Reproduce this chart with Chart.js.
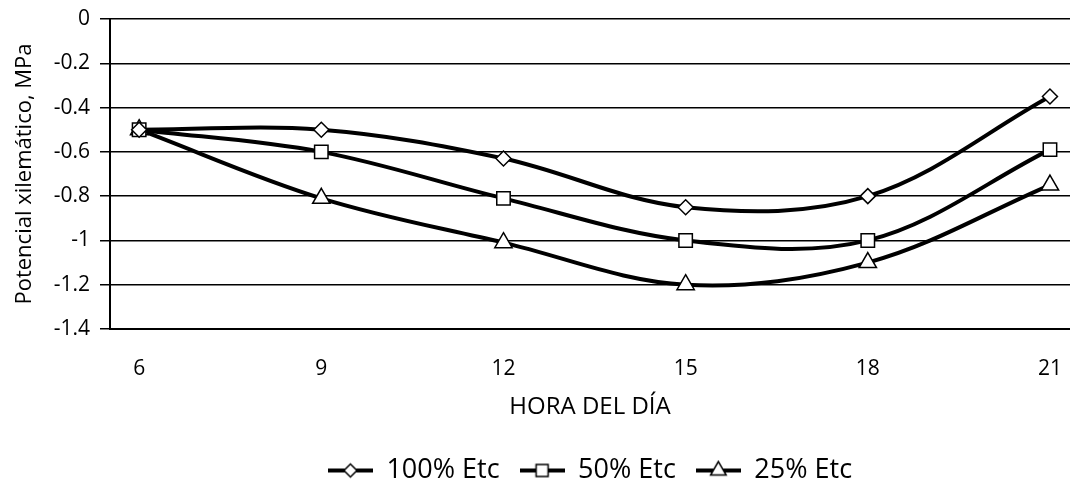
<!DOCTYPE html>
<html>
<head>
<meta charset="utf-8">
<script src="https://cdn.jsdelivr.net/npm/chart.js@4.4.1/dist/chart.umd.min.js"></script>
<style>
  html, body { margin: 0; padding: 0; background: #fff; overflow: hidden; }
  #wrap { width: 1070px; height: 481px; position: relative; }
  canvas { display: block; }
</style>
</head>
<body>
<div id="wrap"><canvas id="potChart"></canvas></div>
<script>
// datos
const hours = [6, 9, 12, 15, 18, 21];
const etc100 = [-0.5, -0.5, -0.63, -0.85, -0.8, -0.35];
const etc50 = [-0.5, -0.6, -0.81, -1.0, -1.0, -0.59];
const etc25 = [-0.5, -0.81, -1.01, -1.2, -1.1, -0.75];
const yTicks = [0, -0.2, -0.4, -0.6, -0.8, -1, -1.2, -1.4];
const seriesNames = ['100% Etc', '50% Etc', '25% Etc'];
const markers = ['rectRot', 'rect', 'triangle'];
const markerSize = [7.5, 9.5, 10];

const FONT = '"Open Sans", Lato, sans-serif';

const allSeries = [etc100, etc50, etc25];
const datasets = allSeries.map((vals, i) => ({
    label: seriesNames[i],
    data: hours.map((h, j) => ({ x: h, y: vals[j] })),
    borderColor: '#000',
    borderWidth: 4,
    tension: 0.35,
    pointStyle: markers[i],
    pointRadius: markerSize[i],
    pointBackgroundColor: '#fff',
    pointBorderColor: '#000',
    pointBorderWidth: 1.5
}));

// icono de leyenda: línea con el marcador encima
const icons = markers.map((m, i) => {
    const c = document.createElement('canvas');
    c.width = 45; c.height = 22;
    const g = c.getContext('2d');
    g.strokeStyle = '#000';
    g.lineWidth = 4;
    g.beginPath();
    g.moveTo(0, 11); g.lineTo(45, 11);
    g.stroke();
    g.fillStyle = '#fff';
    g.lineWidth = 1.5;
    Chart.helpers.drawPoint(g, { pointStyle: m, radius: markerSize[i] - 1, rotation: 0, borderWidth: 1.5 }, 22.5, 11);
    return c;
});

const ctx = document.getElementById('potChart').getContext('2d');
const myChart = new Chart(ctx, {
    type: 'line',
    data: { datasets: datasets },
    options: {
        responsive: true,
        maintainAspectRatio: false,
        animation: false,
        layout: { autoPadding: false, padding: { top: 19, right: 0, left: 0, bottom: -13 } },
        plugins: {
            tooltip: { enabled: false },
            legend: {
                position: 'bottom',
                fullSize: false, // centrada bajo el área del gráfico
                labels: {
                    color: '#000',
                    font: { family: FONT, size: 27 },
                    padding: 20,
                    usePointStyle: true,
                    pointStyleWidth: 45,
                    generateLabels: () => seriesNames.map((n, i) => ({
                        text: n,
                        pointStyle: icons[i],
                        fillStyle: '#fff',
                        strokeStyle: '#000',
                        lineWidth: 0,
                        datasetIndex: i
                    }))
                }
            }
        },
        scales: {
            x: {
                type: 'linear',
                min: 5.52,
                max: 21.33,
                afterBuildTicks: (scale) => { scale.ticks = hours.map(h => ({ value: h })); },
                afterFit: (scale) => {
                    scale.height = 108;
                    scale.paddingLeft = 0;
                    scale.paddingRight = 0;
                },
                grid: { display: false, drawTicks: false },
                border: { display: true, color: '#000', width: 2 },
                ticks: {
                    color: '#000',
                    font: { family: FONT, size: 21 },
                    padding: 27,
                    maxRotation: 0
                },
                title: {
                    display: true,
                    text: 'HORA DEL DÍA',
                    color: '#000',
                    font: { family: FONT, size: 24 },
                    padding: { top: 8, bottom: 15 }
                }
            },
            y: {
                min: -1.4,
                max: 0,
                afterBuildTicks: (scale) => { scale.ticks = yTicks.map(v => ({ value: v })); },
                afterFit: (scale) => {
                    scale.width = 110;
                    scale.paddingTop = 0;
                    scale.paddingBottom = 0;
                },
                grid: { color: '#000', lineWidth: 1.5, tickLength: 10, drawTicks: true },
                border: { display: true, color: '#000', width: 2 },
                ticks: {
                    color: '#000',
                    font: { family: FONT, size: 21 },
                    padding: 10,
                    callback: (v) => String(Math.round(v * 10) / 10)
                },
                title: {
                    display: true,
                    text: 'Potencial xilemático, MPa',
                    color: '#000',
                    font: { family: FONT, size: 22 },
                    padding: { top: 12, bottom: 0 }
                }
            }
        }
    }
});
</script>
</body>
</html>
